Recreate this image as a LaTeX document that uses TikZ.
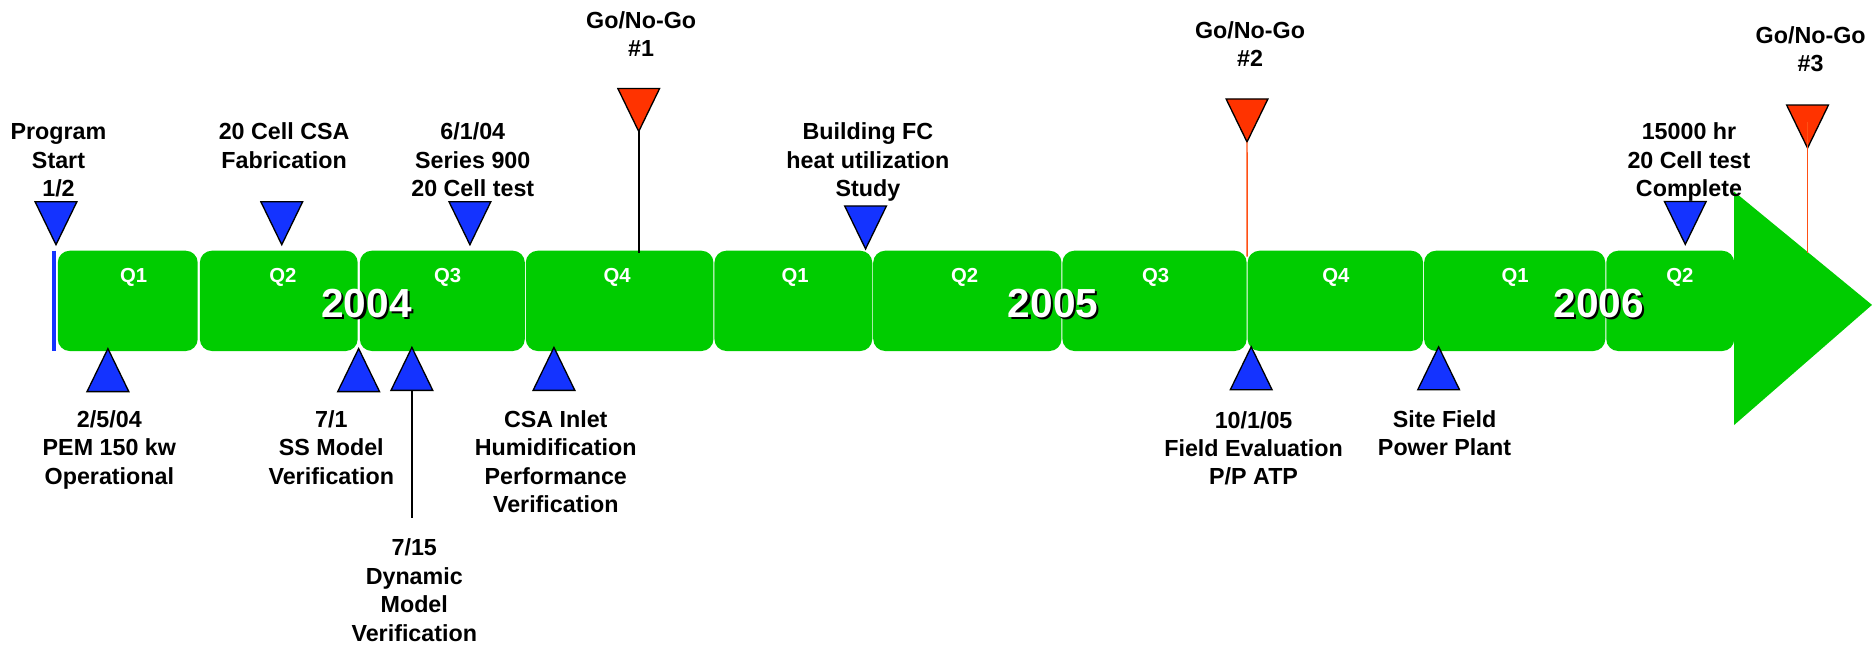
\documentclass[tikz,border=0pt]{standalone}
\usepackage{fontspec}
\setmainfont{Liberation Sans}
\definecolor{barGreen}{RGB}{0,204,0}
\definecolor{mileBlue}{RGB}{20,51,255}
\definecolor{gateRed}{RGB}{255,51,0}
\definecolor{gateLine}{RGB}{255,80,20}

\tikzset{
  qbox/.style={fill=barGreen, rounded corners=10pt, minimum height=84pt, inner sep=0pt, outer sep=0pt},
  qlabel/.style={text=white, font=\fontsize{17}{20}\selectfont\bfseries, anchor=base, inner sep=0pt},
  yearlabel/.style={text=white, font=\fontsize{34}{40}\selectfont\bfseries, anchor=base, inner sep=0pt},
  yearshadow/.style={yearlabel, text=black},
  % the base anchor of a multi-line note sits on its last line
  note/.style={font=\fontsize{19.5}{23.8}\selectfont\bfseries, align=center, anchor=base, inner sep=0pt},
  bluetri/.style={fill=mileBlue, draw=black, line width=1.1pt, line join=miter},
  redtri/.style={fill=gateRed, draw=black, line width=1.1pt, line join=miter},
  blackstem/.style={draw=black, line width=1.3pt},
  redstem/.style={draw=gateLine, line width=1.2pt},
  downtri/.pic={
    \path[pic actions] (-17.5,-18) -- (17.5,-18) -- (0,18) -- cycle;
    \coordinate (-tip) at (0,18);
    \coordinate (-c) at (0,-4);
  },
  uptri/.pic={
    \path[pic actions] (-17.5,18) -- (17.5,18) -- (0,-18) -- cycle;
    \coordinate (-tip) at (0,-18);
    \coordinate (-base) at (0,18);
  },
}

\begin{document}
\begin{tikzpicture}[x=1pt, y=-1pt]
\useasboundingbox (0,0) rectangle (1568,540.3);

% quarter segments of the time bar
\foreach \nm/\a/\b in {a1/48/166, a2/167/300, a3/301/440, a4/440/598,
                       b1/598/731, b2/731/889.5, b3/889.5/1044.6, b4/1044.6/1192.4,
                       c1/1192.4/1345, c2/1345/1453}{
  \pgfmathsetmacro\w{\b-\a-0.8}
  \pgfmathsetmacro\cx{(\a+\b)/2}
  \node[qbox, minimum width=\w pt] (\nm) at (\cx,252) {};
}

% arrow head
\fill[barGreen] (1452.5,160.5) -- (1568,255.4) -- (1452.5,356) -- cycle;

% program start marker line
\draw[mileBlue, line width=3.5pt] (45.5,210) -- (45.5,294);

% quarter labels
\node[qlabel] (la1) at (112,237) {Q1};
\node[qlabel] (la2) at (237,237) {Q2};
\node[qlabel] (la3) at (375,237) {Q3};
\node[qlabel] (la4) at (517,237) {Q4};
\node[qlabel] (lb1) at (666,237) {Q1};
\node[qlabel] (lb2) at (808,237) {Q2};
\node[qlabel] (lb3) at (968,237) {Q3};
\node[qlabel] (lb4) at (1119,237) {Q4};
\node[qlabel] (lc1) at (1269,237) {Q1};
\node[qlabel] (lc2) at (1407,237) {Q2};

% year labels with drop shadow
\node[yearshadow] (ys4) at (309,268) {2004};
\node[yearlabel]  (y4)  at (307,266) {2004};
\node[yearshadow] (ys5) at (884,268) {2005};
\node[yearlabel]  (y5)  at (882,266) {2005};
\node[yearshadow] (ys6) at (1341,268) {2006};
\node[yearlabel]  (y6)  at (1339,266) {2006};

% milestones above the bar
\pic[bluetri] (start) at (46.9,187) {downtri};
\pic[bluetri] (fab)   at (236,187) {downtri};
\pic[bluetri] (sn)    at (393.6,187) {downtri};
\pic[bluetri] (study) at (725,190.5) {downtri};
\pic[bluetri] (done)  at (1411.6,186.7) {downtri};

% go / no-go gates
\pic[redtri] (g1) at (535,92.1) {downtri};
\pic[redtri] (g2) at (1044.5,100.9) {downtri};
\pic[redtri] (g3) at (1514,106) {downtri};
\coordinate (g1-foot) at (535,211.6);
\coordinate (g2-foot) at (1044.6,215);
\coordinate (g3-foot) at (1514,212);
\draw[blackstem] (g1-tip) -- (g1-foot);
\draw[redstem] (g2-tip) -- (g2-foot);
\draw[redstem] (g3-c) -- (g3-foot);

% milestones below the bar
\pic[bluetri] (pem)   at (90.4,310) {uptri};
\pic[bluetri] (ss)    at (300.4,310) {uptri};
\pic[bluetri] (dyn)   at (345,309) {uptri};
\pic[bluetri] (csa)   at (464,309) {uptri};
\pic[bluetri] (field) at (1048,308.5) {uptri};
\pic[bluetri] (site)  at (1205,308.5) {uptri};
\coordinate (dyn-foot) at (345,434);
\draw[blackstem] (dyn-base) -- (dyn-foot);

% texts above
\node[note] (tstart) at (49,164.6) {Program\\Start\\1/2};
\node[note] (tfab)   at (238,140.8) {20 Cell CSA\\Fabrication};
\node[note] (tsn)    at (396,164.6) {6/1/04\\Series 900\\20 Cell test};
\node[note] (tg1)    at (537,47.5) {Go/No-Go\\\#1};
\node[note] (tstudy) at (727,164.6) {Building FC\\heat utilization\\Study};
\node[note] (tg2)    at (1047,55.8) {Go/No-Go\\\#2};
\node[note] (tdone)  at (1414.7,164.6) {15000 hr\\20 Cell test\\Complete};
\node[note] (tg3)    at (1516.6,60.1) {Go/No-Go\\\#3};

% texts below
\node[note] (tpem)   at (91.6,405.6) {2/5/04\\PEM 150 kw\\Operational};
\node[note] (tss)    at (277.5,405.6) {7/1\\SS Model\\Verification};
\node[note] (tdyn)   at (347,537.1) {7/15\\Dynamic\\Model\\Verification};
\node[note] (tcsa)   at (465.5,429.4) {CSA Inlet\\Humidification\\Performance\\Verification};
\node[note] (tfield) at (1050,406.1) {10/1/05\\Field Evaluation\\P/P ATP};
\node[note] (tsite)  at (1210,381.8) {Site Field\\Power Plant};
\end{tikzpicture}
\end{document}
